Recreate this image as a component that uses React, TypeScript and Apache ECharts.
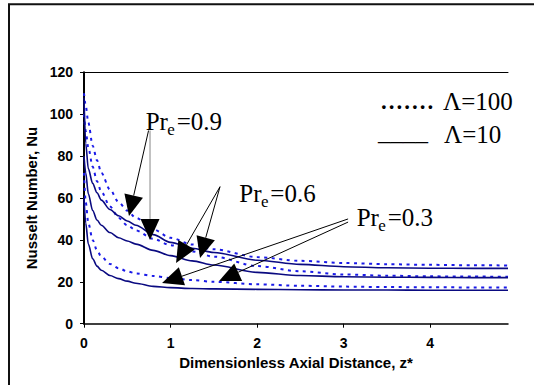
import React, { useEffect, useRef } from "react";
import * as echarts from "echarts";

// Dimensionless axial distance z*
const xs = [0, 0.02, 0.05, 0.1, 0.15, 0.2, 0.3, 0.4, 0.5, 0.6, 0.8, 1.0, 1.25, 1.5, 2.0, 2.5, 3.0, 3.5, 4.0, 4.5, 4.9];

// Nusselt number, Λ=100 (dotted)
const pr09L100 = [110, 104, 96, 85, 78, 72, 64, 58, 54, 50.5, 45, 41, 37.8, 35.5, 31.8, 30, 29, 28.4, 28.1, 27.9, 27.8];
const pr06L100 = [100, 92, 84, 75, 68, 63, 56, 50.5, 47, 44.5, 40.5, 37.5, 34.5, 32, 27.5, 25, 23.5, 22.9, 22.6, 22.5, 22.4];
const pr03L100 = [72, 58, 48, 40, 35, 32, 28.5, 26.5, 25, 24, 22.8, 21.8, 20.8, 20, 18.8, 18.1, 17.7, 17.5, 17.4, 17.3, 17.3];

// Nusselt number, Λ=10 (solid)
const pr09L10 = [108, 86, 74, 67, 62.5, 59, 54.5, 51.5, 49, 47, 42.5, 38.8, 36, 34, 30.3, 28.3, 27.2, 26.7, 26.5, 26.4, 26.4];
const pr06L10 = [80, 72, 62, 54, 49.5, 47, 43.5, 41, 39.5, 38, 35, 32.5, 30, 28, 24.5, 23, 22.4, 22.2, 22.1, 22, 22];
const pr03L10 = [60, 48, 38, 31, 27.5, 25.5, 23, 21.5, 20.3, 19.3, 17.8, 17.2, 16.8, 16.6, 16.4, 16.2, 16.1, 16.1, 16, 16, 16];

const xTicks = [0, 1, 2, 3, 4];

// annotation arrows: [startX, startY, tipX, tipY] in data units
const arrows = [
  [0.746, 92.2, 0.52, 51.4],
  [0.763, 92.2, 0.763, 40.0],
  [1.572, 65.4, 1.064, 29.0],
  [1.572, 65.4, 1.341, 31.4],
  [3.052, 50.0, 0.902, 19.4],
  [3.052, 48.5, 1.561, 20.4],
];
const arrowColors = ["#000", "#888", "#000", "#000", "#000", "#000"];

const pair = (arr: number[]) => xs.map((x, i) => [x, arr[i]]);

export default function App() {
  const ref = useRef<HTMLDivElement>(null);
  useEffect(() => {
    document.body.style.margin = "0";
    const chart = echarts.init(ref.current!, null, { renderer: "svg" });
    const solid = { color: "#0a0a80", width: 1.6, type: "solid" as const };
    const dotted = { color: "#1a1ae8", width: 2, type: [3, 4.5] as any };
    const mk = (name: string, arr: number[], ls: any) => ({
      name,
      type: "line",
      data: pair(arr),
      showSymbol: false,
      symbol: "none",
      smooth: 0.3,
      smoothMonotone: "x",
      lineStyle: ls,
      silent: true,
      z: 2,
    });
    const serif = '"Liberation Serif", "Times New Roman", serif';
    const sans = '"Liberation Sans", Arial, sans-serif';
    const prLabel = (x0: number, mid: number, val: string) => [
      { type: "text", x: x0, y: mid, style: { text: "Pr", font: `25px ${serif}`, fill: "#000", verticalAlign: "middle", align: "left" } },
      { type: "text", x: x0 + 21.6, y: mid + 8, style: { text: "e", font: `17px ${serif}`, fill: "#000", verticalAlign: "middle", align: "left" } },
      { type: "text", x: x0 + 31, y: mid, style: { text: "=" + val, font: `25px ${serif}`, fill: "#000", verticalAlign: "middle", align: "left" } },
    ];
    const option: any = {
      animation: false,
      grid: { left: 84, right: 26, top: 72.3, bottom: 61.3, containLabel: false },
      xAxis: [
        {
          type: "value",
          min: 0,
          max: 4.9,
          interval: 1,
          name: "Dimensionless Axial Distance, z*",
          nameLocation: "middle",
          nameGap: 29,
          nameTextStyle: { fontFamily: sans, fontWeight: "bold", fontSize: 15, color: "#000" },
          axisLine: { show: true, lineStyle: { color: "#000", width: 1.5 } },
          axisTick: { show: true, inside: false, length: 4, lineStyle: { color: "#000", width: 1 }, customValues: xTicks },
          axisLabel: { customValues: xTicks, margin: 12, fontFamily: sans, fontWeight: "bold", fontSize: 14, color: "#000" },
          splitLine: { show: false },
        },
        {
          type: "value",
          position: "top",
          min: 0,
          max: 4.9,
          axisLine: { show: true, onZero: false, lineStyle: { color: "#000", width: 1 } },
          axisTick: { show: false },
          axisLabel: { show: false },
          splitLine: { show: false },
        },
      ],
      yAxis: {
        type: "value",
        min: 0,
        max: 120,
        interval: 20,
        name: "Nusselt Number, Nu",
        nameLocation: "middle",
        nameGap: 34,
        nameTextStyle: { fontFamily: sans, fontWeight: "bold", fontSize: 15, color: "#000" },
        axisLine: { show: true, lineStyle: { color: "#000", width: 2 } },
        axisTick: { show: true, inside: false, length: 4, lineStyle: { color: "#000", width: 1 } },
        axisLabel: { margin: 11, fontFamily: sans, fontWeight: "bold", fontSize: 14, color: "#000" },
        splitLine: { show: false },
      },
      series: [
        mk("Pr 0.9 Λ100", pr09L100, dotted),
        mk("Pr 0.6 Λ100", pr06L100, dotted),
        mk("Pr 0.3 Λ100", pr03L100, dotted),
        mk("Pr 0.9 Λ10", pr09L10, solid),
        mk("Pr 0.6 Λ10", pr06L10, solid),
        mk("Pr 0.3 Λ10", pr03L10, solid),
        {
          type: "custom",
          name: "arrows",
          silent: true,
          z: 5,
          encode: { x: [0, 2], y: [1, 3] },
          data: arrows,
          renderItem: (params: any, api: any) => {
            const s = api.coord([api.value(0), api.value(1)]);
            const t = api.coord([api.value(2), api.value(3)]);
            const color = arrowColors[params.dataIndex];
            const dx = t[0] - s[0];
            const dy = t[1] - s[1];
            const len = Math.hypot(dx, dy);
            const ux = dx / len;
            const uy = dy / len;
            const L = 21;
            const W = 9.5;
            const bx = t[0] - ux * L;
            const by = t[1] - uy * L;
            const px = -uy;
            const py = ux;
            return {
              type: "group",
              children: [
                { type: "line", shape: { x1: s[0], y1: s[1], x2: bx, y2: by }, style: { stroke: color, lineWidth: 1 } },
                {
                  type: "polygon",
                  shape: { points: [[t[0], t[1]], [bx + px * W, by + py * W], [bx - px * W, by - py * W]] },
                  style: { fill: "#000" },
                },
              ],
            };
          },
        },
      ],
      graphic: [
        { type: "rect", shape: { x: 9, y: 4.3, width: 700, height: 700 }, style: { fill: "none", stroke: "#111", lineWidth: 2 }, silent: true },
        ...prLabel(145.7, 121.6, "0.9"),
        ...prLabel(239.3, 193, "0.6"),
        ...prLabel(356.7, 217.6, "0.3"),
        { type: "text", x: 380, y: 98.5, style: { text: ".......", font: `31px ${serif}`, fill: "#000", verticalAlign: "middle", align: "left" } },
        { type: "text", x: 443, y: 101, style: { text: "Λ=100", font: `25px ${serif}`, fill: "#000", verticalAlign: "middle", align: "left" } },
        { type: "text", x: 378, y: 131, style: { text: "____", font: `25px ${serif}`, fill: "#000", verticalAlign: "middle", align: "left" } },
        { type: "text", x: 444, y: 134.5, style: { text: "Λ=10", font: `25px ${serif}`, fill: "#000", verticalAlign: "middle", align: "left" } },
      ],
    };
    chart.setOption(option);
    return () => chart.dispose();
  }, []);
  return <div ref={ref} style={{ width: 534, height: 385 }} />;
}
